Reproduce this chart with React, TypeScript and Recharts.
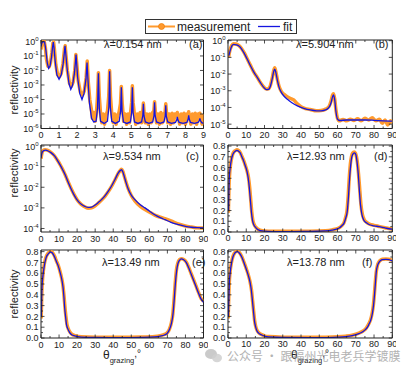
import React from 'react';
import { LineChart, Line, XAxis, YAxis, ReferenceLine } from 'recharts';

const ORANGE = '#FF9A2E';
const ORANGE_EDGE = '#EE7A00';
const BLUE = '#1414E0';
const INK = '#222';
const FONT = '"Liberation Sans", Arial, sans-serif';

// (a) λ=0.154 nm : [theta, log10(reflectivity)]
const aMeas: number[][] = [
  [0.0, -0.55], [0.04, -0.2], [0.1, -0.02], [0.18, 0.0], [0.24, -0.4], [0.3, -1.2], [0.38, -1.7], [0.45, -1.75],
  [0.52, -1.5], [0.6, -0.8], [0.66, -0.1], [0.7, -0.05], [0.74, -0.5], [0.82, -1.6], [0.92, -2.3], [1.02, -2.45],
  [1.12, -2.2], [1.22, -1.5], [1.3, -0.5], [1.34, -0.3], [1.38, -0.9], [1.46, -2.0], [1.58, -2.9], [1.68, -3.1],
  [1.78, -2.8], [1.87, -2.0], [1.93, -0.9], [1.98, -1.5], [2.06, -2.7], [2.18, -3.5], [2.3, -3.7], [2.4, -3.4],
  [2.5, -2.5], [2.56, -1.35], [2.62, -2.8], [2.7, -4.0], [2.78, -4.6], [2.85, -5.3], [2.92, -4.9], [3.0, -5.5],
  [3.07, -4.9], [3.13, -3.8], [3.18, -2.15], [3.23, -3.8], [3.3, -5.0], [3.37, -5.6], [3.45, -5.0], [3.52, -5.7],
  [3.6, -5.1], [3.68, -4.8], [3.75, -3.8], [3.8, -2.0], [3.85, -3.8], [3.92, -5.0], [4.0, -5.6], [4.08, -5.0],
  [4.16, -5.7], [4.24, -5.1], [4.32, -4.9], [4.4, -4.3], [4.45, -3.1], [4.5, -4.3], [4.58, -5.5], [4.66, -5.0],
  [4.74, -5.7], [4.82, -5.0], [4.9, -5.6], [4.97, -4.8], [5.02, -4.2], [5.06, -3.05], [5.1, -4.2], [5.17, -5.0],
  [5.25, -5.7], [5.33, -5.0], [5.41, -5.6], [5.49, -4.9], [5.57, -5.6], [5.63, -4.9], [5.67, -4.25], [5.71, -4.9],
  [5.78, -5.6], [5.86, -5.0], [5.94, -5.7], [6.02, -5.0], [6.1, -5.6], [6.18, -4.9], [6.25, -4.8], [6.29, -4.15],
  [6.33, -4.8], [6.4, -5.6], [6.48, -5.0], [6.56, -5.7], [6.64, -4.9], [6.72, -5.6], [6.8, -5.0], [6.87, -4.9],
  [6.91, -4.3], [6.95, -4.9], [7.02, -5.6], [7.1, -5.0], [7.18, -5.7], [7.26, -4.95], [7.34, -5.6], [7.42, -5.0],
  [7.5, -5.1], [7.55, -4.9], [7.6, -5.2], [7.68, -5.7], [7.76, -5.0], [7.84, -5.6], [7.92, -4.95], [8.0, -5.7],
  [8.08, -5.0], [8.14, -5.1], [8.18, -4.85], [8.22, -5.2], [8.3, -5.7], [8.38, -5.0], [8.46, -5.6], [8.54, -4.95],
  [8.62, -5.7], [8.7, -5.0], [8.76, -5.1], [8.8, -4.95], [8.84, -5.3], [8.92, -5.7], [9.0, -5.0],
];
const aFit: number[][] = [
  [0.0, -0.35], [0.05, -0.1], [0.12, 0.0], [0.2, -0.05], [0.27, -0.6], [0.35, -1.5], [0.42, -1.85], [0.5, -1.7],
  [0.58, -1.1], [0.64, -0.4], [0.68, -0.05], [0.72, -0.4], [0.78, -1.3], [0.88, -2.3], [1.0, -2.6], [1.12, -2.3],
  [1.22, -1.6], [1.29, -0.8], [1.33, -0.3], [1.37, -0.8], [1.44, -1.8], [1.55, -2.9], [1.65, -3.3], [1.75, -3.0],
  [1.85, -2.2], [1.91, -1.4], [1.94, -0.9], [1.97, -1.4], [2.03, -2.5], [2.15, -3.6], [2.27, -4.0], [2.38, -3.6],
  [2.49, -2.6], [2.55, -1.45], [2.6, -2.6], [2.68, -4.2], [2.8, -5.3], [2.92, -5.55], [3.05, -5.5], [3.13, -4.6],
  [3.18, -2.2], [3.23, -4.6], [3.3, -5.5], [3.5, -5.65], [3.68, -5.5], [3.76, -4.5], [3.8, -2.05], [3.84, -4.5],
  [3.92, -5.5], [4.12, -5.65], [4.33, -5.5], [4.41, -4.8], [4.45, -3.15], [4.49, -4.8], [4.57, -5.55], [4.75, -5.65],
  [4.95, -5.55], [5.02, -4.9], [5.06, -3.15], [5.1, -4.9], [5.18, -5.55], [5.37, -5.65], [5.57, -5.55], [5.64, -5.1],
  [5.67, -4.3], [5.7, -5.1], [5.78, -5.55], [5.98, -5.65], [6.19, -5.55], [6.26, -5.1], [6.29, -4.2], [6.32, -5.1],
  [6.4, -5.55], [6.6, -5.65], [6.81, -5.55], [6.88, -5.15], [6.91, -4.4], [6.94, -5.15], [7.02, -5.55], [7.23, -5.65],
  [7.45, -5.58], [7.52, -5.4], [7.55, -5.2], [7.58, -5.4], [7.65, -5.58], [7.87, -5.65], [8.08, -5.58], [8.15, -5.35],
  [8.18, -5.1], [8.21, -5.35], [8.28, -5.58], [8.5, -5.65], [8.7, -5.58], [8.77, -5.45], [8.8, -5.3], [8.83, -5.45],
  [8.9, -5.6], [9.0, -5.65],
];

// (b) λ=5.904 nm
const bMeas: number[][] = [
  [0.3, -1.0], [1.0, -0.6], [2.0, -0.3], [3.0, -0.18], [4.5, -0.2], [6, -0.3], [7.5, -0.48], [9, -0.75],
  [10.5, -1.08], [12.3, -1.48], [14, -1.85], [16, -2.2], [18, -2.55], [19.6, -2.78], [21, -2.9], [22.2, -2.88],
  [23.3, -2.65], [24.3, -2.2], [25, -1.8], [25.6, -1.62], [26.2, -1.85], [27, -2.3], [28, -2.75], [29, -3.0],
  [30.5, -3.2], [32.4, -3.35], [34, -3.45], [36, -3.55], [38, -3.78], [40, -3.95], [42, -4.05], [45, -4.12],
  [48.5, -4.2], [51, -4.18], [53.5, -4.1], [55.3, -3.95], [56.5, -3.6], [57.3, -3.25], [57.8, -3.18], [58.4, -3.45],
  [59.2, -4.2], [60, -4.65], [61, -4.8], [63, -4.72], [65, -4.8], [67, -4.7], [69, -4.78], [71, -4.68],
  [73, -4.8], [75, -4.65], [77, -4.75], [79, -4.62], [81, -4.8], [83, -4.7], [84.5, -4.95], [86, -4.75],
  [87.5, -5.05], [89, -4.8], [90, -4.95],
];
const bFit: number[][] = [
  [0.5, -0.9], [1.3, -0.55], [2.2, -0.3], [3.1, -0.22], [4.5, -0.25], [6, -0.32], [7.5, -0.5], [8.6, -0.7],
  [10.5, -1.1], [12.3, -1.5], [14, -1.85], [16, -2.2], [18, -2.55], [19.6, -2.8], [21, -2.93], [22.2, -2.92],
  [23.3, -2.7], [24.3, -2.25], [25, -1.85], [25.6, -1.7], [26.2, -1.9], [27, -2.35], [28, -2.8], [29, -3.05],
  [30.5, -3.3], [32.4, -3.5], [35, -3.72], [38, -3.9], [41.5, -4.05], [45, -4.15], [48.5, -4.2], [51, -4.2],
  [53.5, -4.15], [55.3, -4.0], [56.5, -3.7], [57.3, -3.35], [57.8, -3.25], [58.4, -3.5], [59.2, -4.3], [60, -4.7],
  [61, -4.78], [65, -4.75], [70, -4.75], [75, -4.75], [80, -4.77], [85, -4.8], [90, -4.82],
];

// (c) λ=9.534 nm
const cMeas: number[][] = [
  [0.0, -0.62], [0.5, -0.35], [1.2, -0.22], [2.2, -0.18], [3.5, -0.2], [5, -0.27], [6.5, -0.38], [8, -0.54],
  [9.5, -0.74], [11, -0.97], [12.5, -1.22], [14, -1.52], [15.5, -1.83], [17, -2.12], [18.5, -2.38], [20, -2.6],
  [21.5, -2.76], [23, -2.88], [24.5, -2.96], [26.2, -3.02], [28, -3.0], [30, -2.9], [31.7, -2.77], [33.5, -2.62],
  [35.4, -2.44], [37.2, -2.22], [39, -1.97], [41, -1.64], [42.8, -1.32], [44, -1.17], [44.6, -1.13], [45.3, -1.22],
  [46.1, -1.45], [47.2, -1.78], [48.3, -2.07], [50, -2.4], [52, -2.66], [55, -2.93], [57.6, -3.08], [60, -3.2],
  [63, -3.35], [66, -3.45], [68.6, -3.52], [72, -3.63], [76, -3.78], [80, -3.88], [83.3, -3.93], [86.5, -3.97],
  [89.8, -3.98],
];
const cFit: number[][] = [
  [0.0, -0.58], [0.7, -0.3], [1.5, -0.22], [2.5, -0.2], [4, -0.24], [5.5, -0.32], [7.5, -0.48], [9, -0.68],
  [10.5, -0.9], [12, -1.15], [13.5, -1.42], [15, -1.75], [16.5, -2.05], [18, -2.32], [19.5, -2.55], [21, -2.72],
  [22.5, -2.84], [24.3, -2.93], [26.2, -2.98], [28, -2.96], [30, -2.86], [31.7, -2.74], [33.5, -2.6], [35.4, -2.42],
  [37.2, -2.2], [39, -1.95], [41, -1.62], [42.8, -1.3], [44, -1.18], [44.6, -1.15], [45.3, -1.25], [46.1, -1.47],
  [47.2, -1.8], [48.3, -2.08], [50, -2.38], [52, -2.6], [55, -2.85], [57.6, -3.0], [60, -3.15], [63, -3.33],
  [66, -3.47], [68.6, -3.57], [72, -3.7], [76, -3.81], [80, -3.9], [83.3, -3.94], [86.5, -3.96], [89.8, -3.97],
];

// (d) λ=12.93 nm : [theta, reflectivity]
const dMeas: number[][] = [
  [0.2, 0.18], [0.6, 0.45], [1.1, 0.58], [1.8, 0.67], [2.5, 0.72], [3.2, 0.745], [4.1, 0.758], [4.9, 0.765],
  [5.8, 0.757], [6.7, 0.74], [7.6, 0.705], [8.6, 0.665], [9.5, 0.62], [10.4, 0.57], [11.2, 0.51], [11.9, 0.41],
  [12.5, 0.29], [13.0, 0.19], [13.6, 0.11], [14.3, 0.07], [15.2, 0.045], [16.2, 0.028], [17.5, 0.018], [19, 0.012],
  [22, 0.008], [28, 0.006], [35, 0.006], [45, 0.007], [53.4, 0.012], [57, 0.02], [60.7, 0.038], [62.5, 0.062],
  [63.5, 0.085], [64.5, 0.14], [65.2, 0.2], [65.8, 0.33], [66.4, 0.5], [67.0, 0.63], [67.6, 0.7], [68.3, 0.735],
  [69.1, 0.745], [69.8, 0.735], [70.4, 0.7], [71.0, 0.63], [71.5, 0.54], [72.2, 0.39], [72.8, 0.26], [73.6, 0.165],
  [74.6, 0.115], [76, 0.09], [77.4, 0.075], [80, 0.062], [82.7, 0.052], [86, 0.04], [89, 0.03], [90, 0.028],
];
const dFit: number[][] = [
  [0.3, 0.2], [0.7, 0.5], [1.2, 0.6], [1.8, 0.67], [2.5, 0.715], [3.1, 0.737], [4, 0.752], [4.9, 0.76],
  [5.8, 0.752], [6.7, 0.737], [7.6, 0.7], [8.6, 0.66], [9.5, 0.615], [10.4, 0.565], [11.1, 0.5], [11.7, 0.41],
  [12.3, 0.29], [12.8, 0.19], [13.4, 0.11], [14, 0.072], [15, 0.045], [15.9, 0.028], [17, 0.017], [18.7, 0.01],
  [22, 0.006], [28, 0.004], [35, 0.004], [45, 0.005], [53.4, 0.01], [57, 0.018], [60.7, 0.035], [62.5, 0.06],
  [63.5, 0.08], [64.5, 0.13], [65.3, 0.19], [66, 0.33], [66.6, 0.5], [67.2, 0.62], [67.7, 0.69], [68.4, 0.725],
  [69.2, 0.737], [69.8, 0.73], [70.4, 0.69], [70.9, 0.62], [71.4, 0.53], [72, 0.38], [72.6, 0.25], [73.4, 0.16],
  [74.4, 0.11], [75.8, 0.085], [77.2, 0.07], [80, 0.058], [82.7, 0.05], [86, 0.038], [89, 0.028], [90, 0.026],
];

// (e) λ=13.49 nm
const eMeas: number[][] = [
  [0.1, 0.18], [0.5, 0.44], [1.0, 0.57], [1.6, 0.66], [2.3, 0.72], [2.9, 0.755], [3.8, 0.782], [4.6, 0.795],
  [5.4, 0.8], [6.4, 0.79], [7.6, 0.755], [8.5, 0.715], [9.5, 0.675], [10.4, 0.625], [11.3, 0.565], [12.2, 0.48],
  [12.8, 0.38], [13.3, 0.28], [13.8, 0.2], [14.4, 0.125], [15.3, 0.078], [16.2, 0.05], [17.3, 0.032], [19, 0.022],
  [22.3, 0.012], [30, 0.008], [44.5, 0.007], [55, 0.009], [63, 0.014], [66, 0.022], [68.4, 0.033], [70, 0.05],
  [71.2, 0.085], [72.2, 0.14], [73.0, 0.22], [73.7, 0.36], [74.3, 0.5], [75.0, 0.63], [75.8, 0.695], [76.7, 0.725],
  [77.7, 0.735], [79, 0.728], [80.4, 0.705], [81.8, 0.655], [83.2, 0.595], [84.6, 0.535], [86, 0.475], [87.4, 0.415],
  [88.7, 0.365], [90, 0.34],
];
const eFit: number[][] = [
  [0.2, 0.2], [0.55, 0.47], [1.1, 0.58], [1.7, 0.655], [2.3, 0.71], [2.9, 0.748], [3.8, 0.775], [4.6, 0.79],
  [5.4, 0.795], [6.4, 0.785], [7.6, 0.748], [8.5, 0.71], [9.5, 0.67], [10.4, 0.62], [11.3, 0.56], [12.2, 0.47],
  [12.7, 0.38], [13.1, 0.283], [13.6, 0.2], [14.1, 0.127], [15, 0.08], [15.9, 0.05], [17, 0.03], [18.7, 0.019],
  [22.3, 0.009], [30, 0.005], [44.5, 0.004], [55, 0.006], [63, 0.01], [66, 0.017], [68.4, 0.028], [70, 0.045],
  [71.2, 0.08], [72.3, 0.14], [73.1, 0.22], [73.8, 0.36], [74.4, 0.5], [75.1, 0.62], [75.8, 0.686], [76.7, 0.72],
  [77.7, 0.732], [79, 0.725], [80.4, 0.7], [81.8, 0.65], [83.2, 0.59], [84.6, 0.53], [86, 0.47], [87.4, 0.41],
  [88.7, 0.36], [90, 0.33],
];

// (f) λ=13.78 nm
const fMeas: number[][] = [
  [0.1, 0.18], [0.6, 0.48], [1.2, 0.62], [1.9, 0.7], [2.7, 0.755], [3.5, 0.785], [4.3, 0.8], [5.2, 0.805],
  [6.3, 0.79], [7.6, 0.752], [8.9, 0.695], [10.3, 0.628], [11.2, 0.58], [12.1, 0.52], [12.9, 0.44], [13.5, 0.34],
  [14.1, 0.24], [14.6, 0.16], [15.2, 0.105], [15.9, 0.072], [17, 0.046], [18.7, 0.03], [20, 0.02], [22.2, 0.013],
  [30, 0.008], [45, 0.007], [53.4, 0.008], [60, 0.011], [64.4, 0.017], [68, 0.026], [71.7, 0.045], [74, 0.065],
  [75.4, 0.085], [76.4, 0.11], [77.2, 0.135], [78.1, 0.17], [78.9, 0.225], [79.6, 0.3], [80.2, 0.41], [80.7, 0.52],
  [81.2, 0.61], [81.9, 0.675], [82.7, 0.705], [83.6, 0.722], [84.5, 0.73], [86.5, 0.732], [88.2, 0.73], [89.2, 0.724],
  [90, 0.72],
];
const fFit: number[][] = [
  [0.2, 0.2], [0.7, 0.5], [1.3, 0.62], [2, 0.7], [2.7, 0.75], [3.5, 0.78], [4.3, 0.795], [5.2, 0.8],
  [6.3, 0.785], [7.6, 0.748], [8.9, 0.69], [10.3, 0.623], [11.2, 0.575], [12.1, 0.515], [12.8, 0.44], [13.4, 0.344],
  [14, 0.24], [14.5, 0.158], [15.1, 0.105], [15.7, 0.072], [16.8, 0.045], [18.5, 0.028], [20, 0.018], [22.2, 0.01],
  [30, 0.005], [45, 0.004], [53.4, 0.004], [60, 0.008], [64.4, 0.013], [68, 0.022], [71.7, 0.04], [74, 0.06],
  [75.4, 0.08], [76.4, 0.1], [77.2, 0.127], [78.2, 0.165], [79, 0.22], [79.7, 0.3], [80.3, 0.41], [80.8, 0.52],
  [81.2, 0.61], [81.9, 0.67], [82.7, 0.7], [83.6, 0.718], [84.5, 0.726], [86.5, 0.728], [88.2, 0.726], [89.2, 0.72],
  [90, 0.716],
];

const xTicksA = [0, 0.5, 1, 1.5, 2, 2.5, 3, 3.5, 4, 4.5, 5, 5.5, 6, 6.5, 7, 7.5, 8, 8.5, 9];
const xTicksDeg = [0, 5, 10, 15, 20, 25, 30, 35, 40, 45, 50, 55, 60, 65, 70, 75, 80, 85, 90];
const yTicksA = [1e-6, 1e-5, 1e-4, 1e-3, 1e-2, 1e-1, 1];
const yTicksB = [1e-5, 1e-4, 1e-3, 1e-2, 1e-1, 1];
const yTicksC = [1e-4, 1e-3, 1e-2, 1e-1, 1];
const yTicksLin = [0, 0.05, 0.1, 0.15, 0.2, 0.25, 0.3, 0.35, 0.4, 0.45, 0.5, 0.55, 0.6, 0.65, 0.7, 0.75, 0.8];

const fromLog = (pts: number[][]) => pts.map(([x, e]) => ({ x, y: Math.pow(10, e) }));
const fromLin = (pts: number[][]) => pts.map(([x, y]) => ({ x, y }));

const isMajorA = (v: number) => Math.abs(v - Math.round(v)) < 1e-6;
const isMajorDeg = (v: number) => v % 10 === 0;

function XTick(props: any) {
  const { x, y, payload, h, major } = props;
  const v = payload.value;
  const big = major(v);
  const len = big ? 3.5 : 2;
  return (
    <g>
      <line x1={x} y1={y} x2={x} y2={y - len} stroke={INK} strokeWidth={0.8} />
      <line x1={x} y1={y - h} x2={x} y2={y - h + len} stroke={INK} strokeWidth={0.8} />
      {big && (
        <text x={x} y={y + 9.5} textAnchor="middle" fontSize={9} fontFamily={FONT} fill={INK}>
          {v}
        </text>
      )}
    </g>
  );
}

function YTick(props: any) {
  const { x, y, payload, w, log } = props;
  const v = payload.value;
  const big = log ? true : Math.abs(v * 10 - Math.round(v * 10)) < 1e-6;
  const len = big ? 3.5 : 2;
  const exp = log ? Math.round(Math.log10(v)) : 0;
  return (
    <g>
      <line x1={x} y1={y} x2={x + len} y2={y} stroke={INK} strokeWidth={0.8} />
      <line x1={x + w} y1={y} x2={x + w - len} y2={y} stroke={INK} strokeWidth={0.8} />
      {big && log && (
        <text x={x - 2.5} y={y + 3.5} textAnchor="end" fontSize={9} fontFamily={FONT} fill={INK}>
          10<tspan fontSize={6} dy={-4}>{exp === 0 ? '0' : '-' + Math.abs(exp)}</tspan>
        </text>
      )}
      {big && !log && (
        <text x={x - 2.5} y={y + 3.2} textAnchor="end" fontSize={9} fontFamily={FONT} fill={INK}>
          {v.toFixed(1)}
        </text>
      )}
    </g>
  );
}

interface PanelProps {
  left: number; top: number; w: number; h: number;
  xDomain: number[]; xTicks: number[]; major: (v: number) => boolean;
  yDomain: number[]; yTicks: number[]; log: boolean;
  meas: { x: number; y: number }[]; fit: { x: number; y: number }[];
  curve: 'linear' | 'monotone';
}

function Panel(p: PanelProps) {
  const ML = 34, MT = 4, MR = 4, MB = 16;
  return (
    <div style={{ position: 'absolute', left: p.left - ML, top: p.top - MT }}>
      <LineChart width={p.w + ML + MR} height={p.h + MT + MB} margin={{ top: MT, right: MR, bottom: 0, left: 0 }}>
        <XAxis type="number" dataKey="x" domain={p.xDomain} ticks={p.xTicks} interval={0} allowDataOverflow
          height={MB} tickSize={0} tickMargin={0} tickLine={false} axisLine={{ stroke: INK }}
          tick={(t: any) => <XTick {...t} h={p.h} major={p.major} />} />
        <YAxis type="number" dataKey="y" scale={p.log ? 'log' : 'linear'} domain={p.yDomain} ticks={p.yTicks}
          interval={0} allowDataOverflow width={ML} tickSize={0} tickMargin={0} tickLine={false}
          axisLine={{ stroke: INK }} tick={(t: any) => <YTick {...t} w={p.w} log={p.log} />} />
        <ReferenceLine x={p.xDomain[1]} stroke={INK} />
        <ReferenceLine y={p.yDomain[1]} stroke={INK} />
        <Line data={p.meas} dataKey="y" type={p.curve} stroke={ORANGE} strokeWidth={3.5}
          strokeLinejoin="round" dot={false} isAnimationActive={false} />
        <Line data={p.fit} dataKey="y" type={p.curve} stroke={BLUE} strokeWidth={1.3} dot={false}
          isAnimationActive={false} />
      </LineChart>
    </div>
  );
}

const textStyle = { fontFamily: FONT, fill: INK } as const;

export default function App() {
  const leftX = 41, rightX = 227.7, wL = 162.5, wR = 164.3;
  return (
    <div style={{ position: 'absolute', left: 0, top: 0, width: 409, height: 374, background: '#fff', overflow: 'hidden' }}>
      <Panel left={leftX} top={40} w={wL} h={88.5} xDomain={[0, 9]} xTicks={xTicksA} major={isMajorA}
        yDomain={[1e-6, Math.pow(10, 0.1)]} yTicks={yTicksA} log meas={fromLog(aMeas)} fit={fromLog(aFit)} curve="linear" />
      <Panel left={rightX} top={40} w={wR} h={88.5} xDomain={[0, 90]} xTicks={xTicksDeg} major={isMajorDeg}
        yDomain={[Math.pow(10, -5.26), Math.pow(10, 0.04)]} yTicks={yTicksB} log meas={fromLog(bMeas)} fit={fromLog(bFit)} curve="monotone" />
      <Panel left={leftX} top={145} w={wL} h={87} xDomain={[0, 90]} xTicks={xTicksDeg} major={isMajorDeg}
        yDomain={[Math.pow(10, -4.17), Math.pow(10, 0.05)]} yTicks={yTicksC} log meas={fromLog(cMeas)} fit={fromLog(cFit)} curve="monotone" />
      <Panel left={rightX} top={145} w={wR} h={87} xDomain={[0, 90]} xTicks={xTicksDeg} major={isMajorDeg}
        yDomain={[0, 0.81]} yTicks={yTicksLin} log={false} meas={fromLin(dMeas)} fit={fromLin(dFit)} curve="monotone" />
      <Panel left={leftX} top={250} w={wL} h={88} xDomain={[0, 90]} xTicks={xTicksDeg} major={isMajorDeg}
        yDomain={[0, 0.815]} yTicks={yTicksLin} log={false} meas={fromLin(eMeas)} fit={fromLin(eFit)} curve="monotone" />
      <Panel left={rightX} top={250} w={wR} h={88} xDomain={[0, 90]} xTicks={xTicksDeg} major={isMajorDeg}
        yDomain={[0, 0.815]} yTicks={yTicksLin} log={false} meas={fromLin(fMeas)} fit={fromLin(fFit)} curve="monotone" />

      <svg width={409} height={374} style={{ position: 'absolute', left: 0, top: 0, pointerEvents: 'none' }}>
        {/* legend */}
        <rect x={145.5} y={19.5} width={151} height={14} fill="#fff" stroke="#333" strokeWidth={1} />
        <line x1={148} y1={26.5} x2={175} y2={26.5} stroke={ORANGE} strokeWidth={2} />
        <circle cx={161.5} cy={26.5} r={3} fill={ORANGE} stroke={ORANGE_EDGE} strokeWidth={0.7} />
        <text x={177} y={30.8} fontSize={12} {...textStyle}>measurement</text>
        <line x1={258} y1={26.5} x2={280} y2={26.5} stroke={BLUE} strokeWidth={1.3} />
        <text x={283} y={30.8} fontSize={12} {...textStyle}>fit</text>

        {/* panel labels */}
        <text x={104} y={48} fontSize={11} {...textStyle}>λ=0.154 nm</text>
        <text x={189} y={48} fontSize={11} {...textStyle}>(a)</text>
        <text x={296} y={48} fontSize={11} {...textStyle}>λ=5.904 nm</text>
        <text x={375} y={48} fontSize={11} {...textStyle}>(b)</text>
        <text x={103} y={160} fontSize={11} {...textStyle}>λ=9.534 nm</text>
        <text x={186} y={160} fontSize={11} {...textStyle}>(c)</text>
        <text x={287} y={160} fontSize={11} {...textStyle}>λ=12.93 nm</text>
        <text x={374} y={160} fontSize={11} {...textStyle}>(d)</text>
        <text x={102} y={266} fontSize={11} {...textStyle}>λ=13.49 nm</text>
        <text x={192} y={266} fontSize={11} {...textStyle}>(e)</text>
        <text x={287} y={266} fontSize={11} {...textStyle}>λ=13.78 nm</text>
        <text x={362} y={266} fontSize={11} {...textStyle}>(f)</text>

        {/* y titles */}
        {[90, 173, 294].map((cy) => (
          <text key={cy} transform={`translate(18,${cy}) rotate(-90)`} textAnchor="middle" fontSize={11} {...textStyle}>
            reflectivity
          </text>
        ))}

        {/* x titles */}
        {[103, 291].map((tx) => (
          <text key={tx} x={tx} y={359} fontSize={12} {...textStyle}>
            θ<tspan fontSize={7.5} dy={3.5}>grazing</tspan><tspan fontSize={10} dy={-6}>,°</tspan>
          </text>
        ))}

        {/* watermark */}
        <ellipse cx={211} cy={354} rx={6} ry={5} fill="#bdbdbd" opacity={0.8} />
        <ellipse cx={217} cy={358} rx={5} ry={4.2} fill="#cfcfcf" opacity={0.85} />
        <text x={227} y={361} fontSize={12} fontFamily='"Noto Sans CJK SC", sans-serif' fill="#9a9a9a" opacity={0.75}>
          公众号 · 跟福州光电老兵学镀膜
        </text>
      </svg>
    </div>
  );
}
